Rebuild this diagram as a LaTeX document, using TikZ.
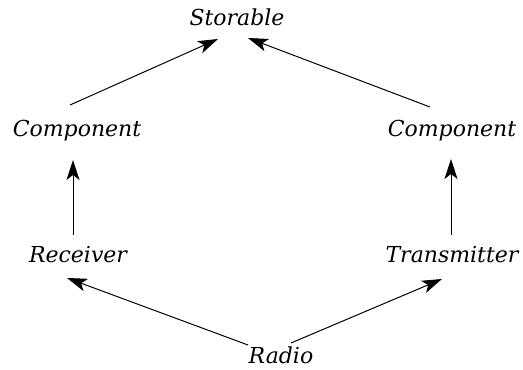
\documentclass[tikz,border=0pt]{standalone}
\usepackage{fontspec}
\setmainfont{DejaVu Serif}
\usetikzlibrary{arrows.meta}
\tikzset{
  cls/.style={font=\fontsize{22}{26}\selectfont\itshape, inner sep=0pt, anchor=base},
  isa/.style={-{Stealth[length=20pt,width=13pt,inset=5pt]}, line width=1pt}
}
\begin{document}
\begin{tikzpicture}[x=1pt,y=1pt]
\useasboundingbox (0,0) rectangle (523,370);
\node[cls] (stor) at (237,344) {Storable};
\node[cls] (compL) at (77,233) {Component};
\node[cls] (compR) at (452,233) {Component};
\node[cls] (recv) at (78,107) {Receiver};
\node[cls] (trans) at (452,107) {Transmitter};
\node[cls] (radio) at (281,6) {Radio};
\draw[isa] ([shift={(-7,32)}]compL.base) -- ([shift={(-19,-13)}]stor.base);
\draw[isa] ([shift={(-22,30)}]compR.base) -- ([shift={(11,-12)}]stor.base);
\draw[isa] ([shift={(-5,28)}]recv.base) -- ([shift={(-4,-23)}]compL.base);
\draw[isa] ([shift={(-1,28)}]trans.base) -- ([shift={(-1,-22)}]compR.base);
\draw[isa] ([shift={(-33,19)}]radio.base) -- ([shift={(-11,-15)}]recv.base);
\draw[isa] ([shift={(10,21)}]radio.base) -- ([shift={(-10,-16)}]trans.base);
\end{tikzpicture}
\end{document}
